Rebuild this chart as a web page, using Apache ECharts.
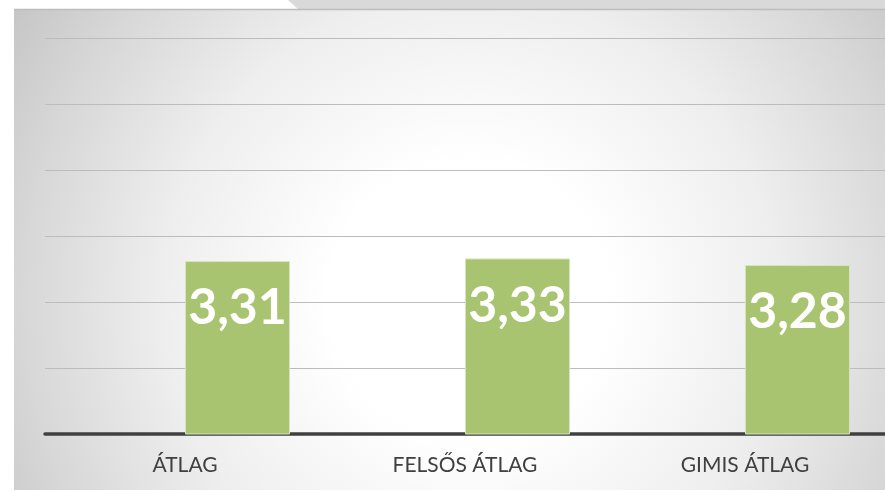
<!DOCTYPE html>
<html><head><meta charset="utf-8">
<script src="https://cdn.jsdelivr.net/npm/echarts@6/dist/echarts.min.js"></script>
<style>html,body{margin:0;padding:0;background:#fff}#c{width:885px;height:491px}</style>
</head><body><div id="c"></div>
<script>
const categories = ['ÁTLAG', 'FELSŐS ÁTLAG', 'GIMIS ÁTLAG'];
const hiddenSeries = [null, null, null];
const values = [3.31, 3.33, 3.28];
const yMin = 2, yMax = 5, yStep = 0.5;

const chart = echarts.init(document.getElementById('c'), null, {renderer: 'canvas'});
chart.setOption({
  backgroundColor: '#ffffff',
  animation: false,
  graphic: [
    {type: 'polygon', z: -100, silent: true,
     shape: {points: [[288, 0], [885, 0], [885, 9], [298, 9]]},
     style: {fill: '#d9d9d9'}},
    {type: 'rect', z: -99, silent: true,
     shape: {x: 14, y: 9, width: 871, height: 481},
     style: {fill: {type: 'radial', x: 470, y: 300, r: 560, global: true,
       colorStops: [
         {offset: 0, color: '#ffffff'},
         {offset: 0.25, color: '#ffffff'},
         {offset: 0.55, color: '#eeeeee'},
         {offset: 0.8, color: '#d7d7d7'},
         {offset: 1, color: '#c2c2c2'}]}}},
    {type: 'line', z: -98, silent: true,
     shape: {x1: 14, y1: 9.5, x2: 885, y2: 9.5},
     style: {stroke: '#bdbdbd', lineWidth: 1.5}}
  ],
  grid: {left: 45, right: 0, top: 38, bottom: 57, containLabel: false},
  xAxis: {
    type: 'category', data: categories,
    axisLine: {lineStyle: {color: '#404040', width: 3.5}},
    axisTick: {show: false},
    axisLabel: {color: '#404040', fontSize: 21, fontFamily: 'Lato', margin: 21}
  },
  yAxis: {
    type: 'value', min: yMin, max: yMax, interval: yStep,
    axisLabel: {show: false}, axisLine: {show: false}, axisTick: {show: false},
    splitLine: {lineStyle: {color: '#bcbcbc', width: 1.2}}
  },
  series: [
    {type: 'bar', data: hiddenSeries, barWidth: 105, barGap: '0%'},
    {type: 'bar', data: values, barWidth: 105, barGap: '0%',
     itemStyle: {color: '#a9c471', borderColor: '#d6e4bd', borderWidth: 1},
     label: {show: true, position: 'insideTop', distance: 22,
       formatter: p => p.value.toFixed(2).replace('.', ','),
       color: '#ffffff', fontWeight: 'bold', fontSize: 50, fontFamily: 'Lato'}}
  ]
});
</script></body></html>
